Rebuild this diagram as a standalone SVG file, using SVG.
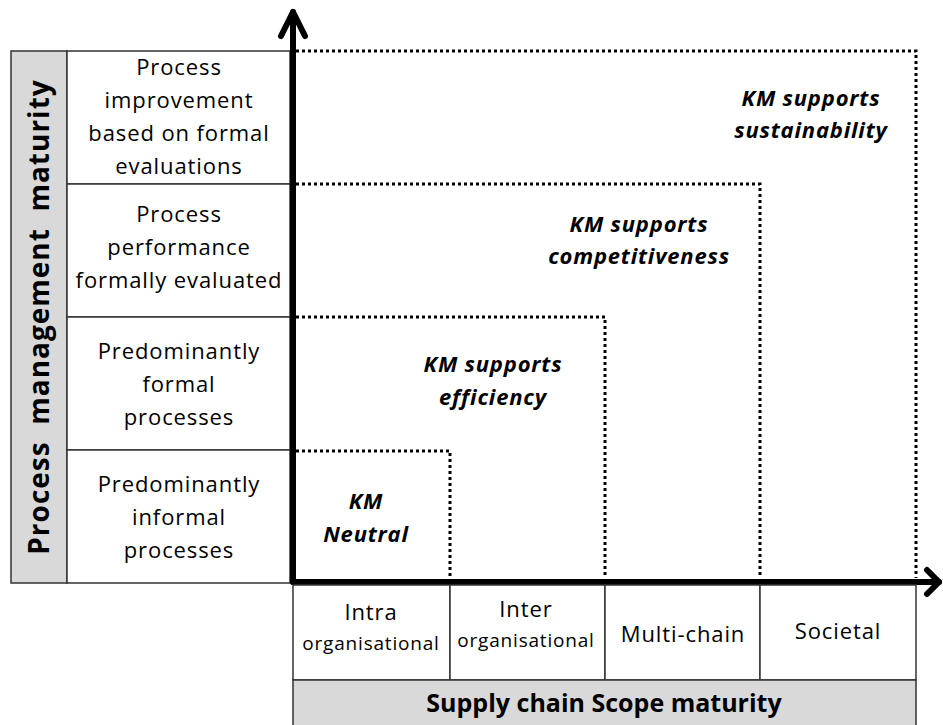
<svg xmlns="http://www.w3.org/2000/svg" width="943" height="725" viewBox="0 0 943 725">
<style>
.box{fill:#fff;stroke:#333;stroke-width:1.5}
.gray{fill:#d9d9d9;stroke:#333;stroke-width:1.5}
.t{font-family:"Open Sans","Liberation Sans",sans-serif;font-size:22px;letter-spacing:0.9px;fill:#000;text-anchor:middle}
.s{font-size:19px;letter-spacing:0.8px}
.km{font-family:"Open Sans","Liberation Sans",sans-serif;font-size:22px;letter-spacing:0.8px;font-weight:bold;font-style:italic;fill:#000;text-anchor:middle}
.title{font-family:"Open Sans","Liberation Sans",sans-serif;font-size:25px;font-weight:bold;fill:#000;text-anchor:middle}
.vt{font-size:28px;letter-spacing:1px}
.dot{fill:none;stroke:#000;stroke-width:3;stroke-dasharray:3 3}
.axis{fill:none;stroke:#000;stroke-width:6;stroke-linecap:round;stroke-linejoin:round}
</style>
<rect width="943" height="725" fill="#fff"/>
<g id="y-title">
<rect class="gray" x="11" y="51" width="56" height="532"/>
<text class="title vt" transform="translate(49,317) rotate(-90)" xml:space="preserve">Process  management  maturity</text>
</g>
<g id="row4">
<rect class="box" x="67" y="51" width="223" height="133"/>
<text class="t" x="179" y="75">Process</text>
<text class="t" x="179" y="108">improvement</text>
<text class="t" x="179" y="141">based on formal</text>
<text class="t" x="179" y="174">evaluations</text>
</g>
<g id="row3">
<rect class="box" x="67" y="184" width="223" height="133"/>
<text class="t" x="179" y="222">Process</text>
<text class="t" x="179" y="255">performance</text>
<text class="t" x="179" y="288">formally evaluated</text>
</g>
<g id="row2">
<rect class="box" x="67" y="317" width="223" height="133"/>
<text class="t" x="179" y="359">Predominantly</text>
<text class="t" x="179" y="392">formal</text>
<text class="t" x="179" y="425">processes</text>
</g>
<g id="row1">
<rect class="box" x="67" y="450" width="223" height="133"/>
<text class="t" x="179" y="492">Predominantly</text>
<text class="t" x="179" y="525">informal</text>
<text class="t" x="179" y="558">processes</text>
</g>
<g id="zones">
<polyline class="dot" points="296,51 916,51 916,578"/>
<polyline class="dot" points="296,184 760,184 760,578"/>
<polyline class="dot" points="296,317 605,317 605,578"/>
<polyline class="dot" points="296,451 450,451 450,578"/>
</g>
<g id="km-sustainability">
<text class="km" x="811" y="106">KM supports</text>
<text class="km" x="811" y="138">sustainability</text>
</g>
<g id="km-competitiveness">
<text class="km" x="639" y="232">KM supports</text>
<text class="km" x="639" y="264">competitiveness</text>
</g>
<g id="km-efficiency">
<text class="km" x="493" y="372">KM supports</text>
<text class="km" x="493" y="405">efficiency</text>
</g>
<g id="km-neutral">
<text class="km" x="366" y="509">KM</text>
<text class="km" x="366" y="542">Neutral</text>
</g>
<g id="connectors">
<polyline class="axis" points="293,582 293,12"/>
<polyline class="axis" points="281,36 293,12 305,36"/>
<polyline class="axis" points="293,582 939,582"/>
<polyline class="axis" points="927,570 939,582 927,594"/>
</g>
<g id="col1">
<rect class="box" x="293" y="585" width="157" height="95"/>
<text class="t" x="371" y="620">Intra</text>
<text class="t s" x="371" y="650">organisational</text>
</g>
<g id="col2">
<rect class="box" x="450" y="585" width="155" height="95"/>
<text class="t" x="526" y="617">Inter</text>
<text class="t s" x="526" y="647">organisational</text>
</g>
<g id="col3">
<rect class="box" x="605" y="585" width="155" height="95"/>
<text class="t" x="683" y="642">Multi-chain</text>
</g>
<g id="col4">
<rect class="box" x="760" y="585" width="156" height="95"/>
<text class="t" x="838" y="639">Societal</text>
</g>
<g id="x-title">
<rect class="gray" x="293" y="680" width="623" height="50"/>
<text class="title" x="604" y="712">Supply chain Scope maturity</text>
</g>
</svg>
